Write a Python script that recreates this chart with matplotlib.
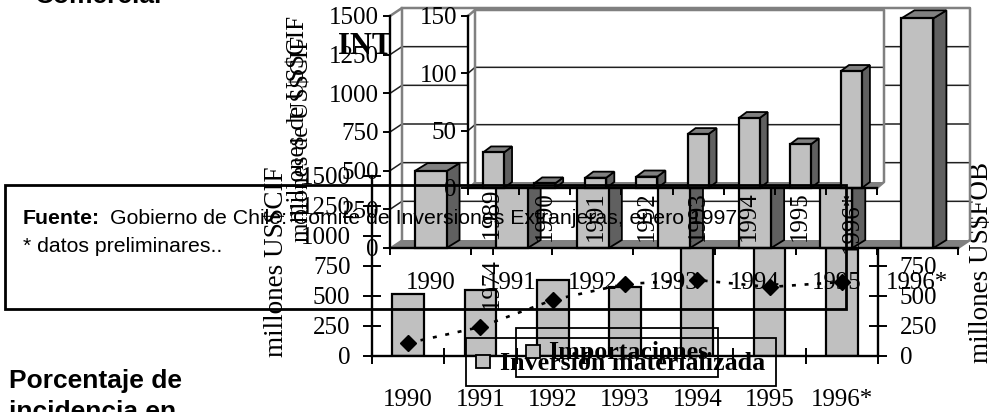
import matplotlib
matplotlib.use("Agg")
import matplotlib.pyplot as plt
from matplotlib.patches import Polygon, Rectangle
from matplotlib.transforms import Affine2D, Bbox

W, H = 990, 412
SERIF = "Liberation Serif"
SANS = "Liberation Sans"
FS = 18
FRONT, SIDE, TOPC, WALL = "#C0C0C0", "#606060", "#808080", "#808080"

# --- data -----------------------------------------------------------
years_a = ["1990", "1991", "1992", "1993", "1994", "1995", "1996*"]
imports_cif = [517, 550, 633, 575, 1010, 1120, 1480]      # last three hidden at the top
exports_fob = [108, 242, 467, 600, 633, 575, 617]
ticks_a = [0, 250, 500, 750, 1000, 1250, 1500]

years_b = ["1990", "1991", "1992", "1993", "1994", "1995", "1996*"]
values_b = [497, 620, 760, 690, 900, 840, 1485]           # middle bars hidden by the upper chart
ticks_b = [0, 250, 500, 750, 1000, 1250, 1500]

years_c = ["1974 - 1989", "1990", "1991", "1992", "1993", "1994", "1995", "1996*"]
values_c = [31, 4, 9, 10, 47, 61, 38, 102]
ticks_c = [0, 50, 100, 150]

ylabel_a = "millones US$CIF"
ylabel_r = "millones US$FOB"
ylabel_b = "millones de US$CIF"
legend_a = "Inversión materializada"
legend_b = "Importaciones"
# --------------------------------------------------------------------

fig = plt.figure(figsize=(W / 100, H / 100), dpi=100, facecolor="white")
PX = Affine2D().scale(1 / W, -1 / H).translate(0, 1) + fig.transFigure


def px_axes(l, t, r, b, z):
    ax = fig.add_axes([l / W, 1 - b / H, (r - l) / W, (b - t) / H], zorder=z)
    ax.patch.set_visible(False)
    for s in ("top", "right"):
        ax.spines[s].set_visible(False)
    for s in ("left", "bottom"):
        ax.spines[s].set_linewidth(1.7)
    return ax


def chart_3d(ax, values, labels, ticks, box, wall_off, bar_off, barw, xpad, rot):
    l, t, r, b = box
    n = len(values)
    ymax = ticks[-1]
    ax.set_xlim(0, n)
    ax.set_ylim(0, ymax)
    sx, sy = n / (r - l), ymax / (b - t)
    wx, wy = wall_off[0] * sx, wall_off[1] * sy
    bx, by = bar_off[0] * sx, bar_off[1] * sy
    kw = dict(clip_on=False)
    ax.add_patch(Polygon([(0, 0), (wx, wy), (n + wx, wy), (n + wx, ymax + wy), (wx, ymax + wy), (0, ymax)],
                         fc="white", ec="none", zorder=0.1, **kw))
    ax.add_patch(Polygon([(0, 0), (wx, wy), (n + wx, wy), (n, 0)], fc=WALL, ec="none", zorder=0.2, **kw))
    for v in ticks[1:-1]:
        ax.plot([0, wx, n + wx], [v, v + wy, v + wy], color="#202020", lw=1.1, zorder=0.3, **kw)
    ax.plot([0, wx, wx], [ymax, ymax + wy, wy], color=WALL, lw=1.8, zorder=0.4, **kw)
    ax.plot([wx, n + wx, n + wx, n], [ymax + wy, ymax + wy, wy, 0], color=WALL, lw=1.8, zorder=0.4, **kw)
    ax.plot([0, wx], [0, wy], color=WALL, lw=1.0, zorder=0.4, **kw)
    centers = [i + 0.5 for i in range(n)]
    for c, v in zip(centers, values):
        x0, x1 = c - barw / 2, c + barw / 2
        ax.add_patch(Polygon([(x1, 0), (x1 + bx, by), (x1 + bx, v + by), (x1, v)], fc=SIDE, ec="black", lw=1.3,
                             zorder=1, **kw))
        ax.add_patch(Polygon([(x0, v), (x0 + bx, v + by), (x1 + bx, v + by), (x1, v)], fc=TOPC, ec="black", lw=1.3,
                             zorder=1, **kw))
    ax.bar(centers, values, width=barw, color=FRONT, edgecolor="black", linewidth=1.6, zorder=1.1, clip_on=False)
    ax.set_xticks(range(n + 1))
    ax.set_xticklabels([])
    ax.set_xticks(centers, labels, minor=True, rotation=rot, fontfamily=SERIF, fontsize=FS,
                  va="top", ha="center")
    ax.set_yticks(ticks)
    ax.tick_params(axis="x", which="major", length=5, width=1.4, direction="out")
    ax.tick_params(axis="x", which="minor", length=0, pad=xpad)
    ax.tick_params(axis="y", length=5, width=1.4, direction="out", pad=3, labelsize=FS)
    for tl in ax.get_yticklabels():
        tl.set_fontfamily(SERIF)


# lower chart ---------------------------------------------------------
ax_a = px_axes(372, 176, 878, 356, 1)
pos = [i + 0.5 for i in range(len(years_a))]
ax_a.set_xlim(0, len(years_a))
ax_a.set_ylim(0, ticks_a[-1])
ax_a.bar(pos, imports_cif, width=0.44, color=FRONT, edgecolor="black", linewidth=1.6, zorder=2)
ax_a.set_xticks(range(len(years_a) + 1))
ax_a.set_xticklabels([])
ax_a.set_xticks(pos, years_a, minor=True, fontfamily=SERIF, fontsize=FS)
ax_a.set_yticks(ticks_a)
ax_a.tick_params(axis="x", which="major", length=12, width=1.4, direction="inout")
ax_a.tick_params(axis="x", which="minor", length=0, pad=24)
ax_a.tick_params(axis="y", length=13, width=1.4, direction="inout", pad=9, labelsize=FS)
for tl in ax_a.get_yticklabels():
    tl.set_fontfamily(SERIF)
ax_a.set_ylabel(ylabel_a, fontfamily=SERIF, fontsize=19.5)
ax_a.yaxis.set_label_coords(289, 262, transform=PX)
ax_a.text(338, 47, "INT", transform=PX, fontfamily=SERIF, fontsize=22, fontweight="bold", va="center", ha="left")

ax_r = ax_a.twinx()
ax_r.set_zorder(1.1)
ax_r.patch.set_visible(False)
ax_r.set_ylim(0, ticks_a[-1])
ax_r.set_yticks(ticks_a)
for s in ("top", "left", "bottom"):
    ax_r.spines[s].set_visible(False)
ax_r.spines["right"].set_linewidth(1.7)
ax_r.plot(pos, exports_fob, color="black", lw=1.9, linestyle=(0, (1.5, 3.3)), marker="D", ms=8.5, zorder=3)
ax_r.tick_params(axis="y", length=13, width=1.4, direction="inout", pad=9, labelsize=FS)
for tl in ax_r.get_yticklabels():
    tl.set_fontfamily(SERIF)
ax_r.set_ylabel(ylabel_r, fontfamily=SERIF, fontsize=19.5)
ax_r.yaxis.set_label_coords(969, 262, transform=PX)
ax_r.yaxis.label.set_clip_box(Bbox([[950, 0], [990, H - 163]]))
ax_r.yaxis.label.set_clip_on(True)

# middle 3-D chart ----------------------------------------------------
ax_b = px_axes(390, 16, 958, 248, 2)
chart_3d(ax_b, values_b, years_b, ticks_b, (390, 16, 958, 248), (12, 8), (13, 8), 0.394, 17, 0)
ax_b.set_ylabel(ylabel_b, fontfamily=SERIF, fontsize=18)
ax_b.yaxis.set_label_coords(310, 119, transform=PX)

# upper 3-D chart -----------------------------------------------------
ax_c = px_axes(468, 16, 877, 188, 3)
chart_3d(ax_c, values_c, years_c, ticks_c, (468, 16, 877, 188), (7, 6), (8, 6), 0.41, 2, 90)
ax_c.set_ylabel(ylabel_b, fontfamily=SERIF, fontsize=18)
ax_c.yaxis.set_label_coords(313, 139, transform=PX)

# overlay: source box, legends, slide text ------------------------------
ov = fig.add_axes([0, 0, 1, 1], zorder=4)
ov.set_xlim(0, W)
ov.set_ylim(H, 0)
ov.axis("off")
ov.patch.set_visible(False)
ov.add_patch(Rectangle((5, 185), 841, 124, fc="none", ec="black", lw=2.0))
ov.add_patch(Rectangle((466, 338), 310, 48, fc="none", ec="black", lw=1.3))
ov.add_patch(Rectangle((516, 328), 202, 49, fc="none", ec="black", lw=1.3))
ov.add_patch(Rectangle((476, 355), 14, 13, fc=FRONT, ec="black", lw=1.3))
ov.add_patch(Rectangle((526, 345), 14, 13, fc=FRONT, ec="black", lw=1.3))
ov.text(548, 352, legend_b, fontfamily=SERIF, fontsize=18.7, fontweight="bold", va="center", ha="left")
ov.text(500, 364, legend_a, fontfamily=SERIF, fontsize=18.7, fontweight="bold", va="center", ha="left")

ov.text(23, 224, "Fuente:", fontfamily=SANS, fontsize=15.3, fontweight="bold", va="baseline", ha="left")
ov.text(110, 224, "Gobierno de Chile: Comité de Inversiones Extranjeras, enero 1997", fontfamily=SANS, fontsize=15.3,
        va="baseline", ha="left")
ov.text(23, 252, "* datos preliminares..", fontfamily=SANS, fontsize=15.3, va="baseline", ha="left")
ov.text(35, 3, "Comercial", fontfamily=SANS, fontsize=19, fontweight="bold", va="baseline", ha="left", clip_on=True)
ov.text(9, 388, "Porcentaje de", fontfamily=SANS, fontsize=19, fontweight="bold", va="baseline", ha="left")
ov.text(9, 419, "incidencia en", fontfamily=SANS, fontsize=19, fontweight="bold", va="baseline", ha="left", clip_on=True)

fig.savefig("out.png", dpi=100)
